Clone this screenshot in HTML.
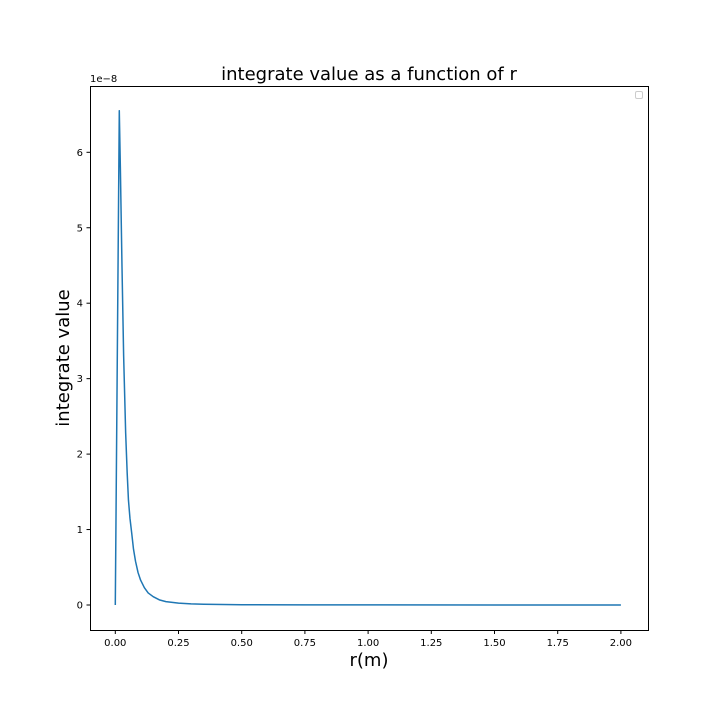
<!DOCTYPE html>
<html><head><meta charset="utf-8"><style>
html,body{margin:0;padding:0;background:#fff;}
svg{display:block;font-family:"DejaVu Sans","Liberation Sans",sans-serif;}
</style></head><body>
<svg id="chart" width="720" height="720">
<rect width="720" height="720" fill="#fff"/>
<text x="369" y="80" font-size="18" text-anchor="middle" fill="#000">integrate value as a function of r</text>
<text x="369" y="666" font-size="18" text-anchor="middle" fill="#000">r(m)</text>
<text transform="translate(69,358) rotate(-90)" font-size="18" text-anchor="middle" fill="#000">integrate value</text>
<text x="90" y="82" font-size="10" fill="#000">1e−8</text>
<g id="xticks"></g>
<g id="yticks"></g>
<polyline id="series" fill="none" stroke="#1f77b4" stroke-width="1.5" stroke-linejoin="round"/>
<rect x="90.5" y="86.5" width="558" height="544" fill="none" stroke="#000" stroke-width="1"/>
<rect x="635.5" y="91.5" width="7" height="7" rx="1.5" fill="#fff" stroke="#ccc" stroke-width="1"/>
</svg>
<script>
const xTicks=[0,0.25,0.5,0.75,1,1.25,1.5,1.75,2];
const xTickLabels=["0.00","0.25","0.50","0.75","1.00","1.25","1.50","1.75","2.00"];
const yTicks=[0,1,2,3,4,5,6];
const yTickLabels=["0","1","2","3","4","5","6"];
const rValues=[0,0.0158,0.02,0.0265,0.033,0.041,0.047,0.052,0.058,0.065,0.072,0.08,0.09,0.1,0.115,0.13,0.15,0.176,0.2,0.25,0.3,0.35,0.5,0.75,1,1.5,2];
const intValues=[0,6.55,5.8,4.48,3.3,2.28,1.75,1.39,1.15,0.95,0.74,0.58,0.43,0.33,0.23,0.16,0.11,0.066,0.045,0.025,0.015,0.01,0.004,0.002,0.001,0.0005,0.0003];
function xs(v){return 115.3+v*252.8;}
function ys(v){return 605-v*75.45;}
const NS="http://www.w3.org/2000/svg";
const xg=document.getElementById('xticks'),yg=document.getElementById('yticks');
xTicks.forEach((t,i)=>{
  const l=document.createElementNS(NS,'line');
  l.setAttribute('x1',xs(t));l.setAttribute('x2',xs(t));l.setAttribute('y1',630.5);l.setAttribute('y2',634);l.setAttribute('stroke','#000');
  
  
  xg.appendChild(l);
  const tx=document.createElementNS(NS,'text');
  tx.setAttribute('x',xs(t));tx.setAttribute('y',646);tx.setAttribute('font-size','10');tx.setAttribute('text-anchor','middle');
  tx.textContent=xTickLabels[i];
  
  
  xg.appendChild(tx);
});
yTicks.forEach((t,i)=>{
  const l=document.createElementNS(NS,'line');
  l.setAttribute('x1',86.5);l.setAttribute('x2',90.5);l.setAttribute('y1',ys(t));l.setAttribute('y2',ys(t));l.setAttribute('stroke','#000');
  
  
  yg.appendChild(l);
  const tx=document.createElementNS(NS,'text');
  tx.setAttribute('x',83);tx.setAttribute('y',ys(t)+3.5);tx.setAttribute('font-size','10');tx.setAttribute('text-anchor','end');
  tx.textContent=yTickLabels[i];
  
  
  yg.appendChild(tx);
});
document.getElementById('series').setAttribute('points',rValues.map((r,i)=>xs(r).toFixed(2)+','+ys(intValues[i]).toFixed(2)).join(' '));
</script>
</body></html>
